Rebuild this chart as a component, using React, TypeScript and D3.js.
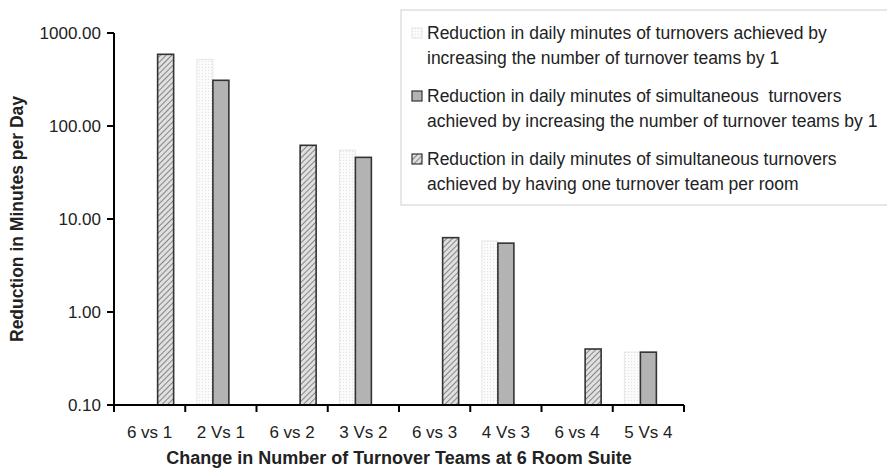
import * as d3 from "d3";
import React from "react";

const categories = ["6 vs 1", "2 Vs 1", "6 vs 2", "3 Vs 2", "6 vs 3", "4 Vs 3", "6 vs 4", "5 Vs 4"];
const turnoversByOne = [null, 520, null, 55, null, 5.8, null, 0.37];
const simultaneousByOne = [null, 310, null, 46, null, 5.5, null, 0.37];
const oneTeamPerRoom = [590, null, 62, null, 6.3, null, 0.4, null];
const yTicks = [0.1, 1, 10, 100, 1000];

const series = [
  {
    key: "turnovers",
    values: turnoversByOne,
    lines: ["Reduction in daily minutes of turnovers achieved by", "increasing the number of turnover teams by 1"],
  },
  {
    key: "simultaneous",
    values: simultaneousByOne,
    lines: ["Reduction in daily minutes of simultaneous  turnovers", "achieved by increasing the number of turnover teams by 1"],
  },
  {
    key: "perRoom",
    values: oneTeamPerRoom,
    lines: ["Reduction in daily minutes of simultaneous turnovers", "achieved by having one turnover team per room"],
  },
];

const styles: Record<string, { fill: string; stroke: string; sw: number }> = {
  turnovers: { fill: "url(#dots)", stroke: "#e6e6e6", sw: 1 },
  simultaneous: { fill: "#b3b3b3", stroke: "#333", sw: 1.6 },
  perRoom: { fill: "url(#hatch)", stroke: "#333", sw: 1.6 },
};

export default function App() {
  const width = 887;
  const height = 470;
  const left = 114;
  const right = 684;
  const top = 33;
  const bottom = 405;

  const x = d3.scaleBand().domain(categories).range([left, right]).padding(0);
  const bw = x.bandwidth();
  const groupW = bw * 0.674;
  const xs = d3
    .scaleBand()
    .domain(series.map((s) => s.key))
    .range([(bw - groupW) / 2, (bw + groupW) / 2]);
  const y = d3.scaleLog().domain([0.1, 1000]).range([bottom, top]);

  const font = "Liberation Sans, Arial, sans-serif";
  const legendX = 401;
  const legendRows = [33, 96, 159];

  return (
    <svg width={width} height={height} style={{ position: "absolute", left: 0, top: 0, background: "#fff" }} fontFamily={font}>
      <defs>
        <pattern id="hatch" width="4" height="4" patternUnits="userSpaceOnUse" patternTransform="rotate(45)">
          <rect width="4" height="4" fill="#e0e0e0" />
          <line x1="0" y1="0" x2="0" y2="4" stroke="#6e6e6e" strokeWidth="1.6" />
        </pattern>
        <pattern id="dots" width="3" height="3" patternUnits="userSpaceOnUse">
          <rect width="3" height="3" fill="#fbfbfb" />
          <rect x="1" y="1" width="1" height="1" fill="#e2e2e2" />
        </pattern>
      </defs>

      {/* bars */}
      {series.map((s) =>
        s.values.map((v, i) =>
          v == null ? null : (
            <rect
              key={s.key + i}
              x={(x(categories[i]) as number) + (xs(s.key) as number)}
              y={y(v)}
              width={xs.bandwidth()}
              height={bottom - y(v)}
              fill={styles[s.key].fill}
              stroke={styles[s.key].stroke}
              strokeWidth={styles[s.key].sw}
            />
          )
        )
      )}

      {/* y axis */}
      <line x1={left} x2={left} y1={top} y2={bottom} stroke="#000" strokeWidth={2} />
      {yTicks.map((t) => (
        <g key={t}>
          <line x1={left - 7} x2={left} y1={y(t)} y2={y(t)} stroke="#000" strokeWidth={2} />
          <text x={left - 13} y={y(t)} dy="0.35em" textAnchor="end" fontSize={17} fill="#222">
            {t.toFixed(2)}
          </text>
        </g>
      ))}

      {/* x axis */}
      <line x1={left} x2={right} y1={bottom} y2={bottom} stroke="#000" strokeWidth={2} />
      {[...categories.map((c) => x(c) as number), right].map((px, i) => (
        <line key={i} x1={px} x2={px} y1={bottom} y2={bottom + 7} stroke="#000" strokeWidth={2} />
      ))}
      {categories.map((c) => (
        <text key={c} x={(x(c) as number) + bw / 2} y={432} dy="0.35em" textAnchor="middle" fontSize={17} fill="#222">
          {c}
        </text>
      ))}

      <text x={(left + right) / 2} y={458} dy="0.35em" textAnchor="middle" fontSize={18} fontWeight="bold" fill="#222">
        Change in Number of Turnover Teams at 6 Room Suite
      </text>
      <text
        transform={`translate(17,${(top + bottom) / 2}) rotate(-90)`}
        dy="0.35em"
        textAnchor="middle"
        fontSize={17.5}
        fontWeight="bold"
        fill="#222"
      >
        Reduction in Minutes per Day
      </text>

      {/* legend */}
      <rect x={legendX} y={10} width={500} height={195} fill="#fff" stroke="#cfcfcf" strokeWidth={1} />
      {series.map((s, i) => (
        <g key={s.key}>
          <rect
            x={412}
            y={legendRows[i] - 5}
            width={10}
            height={10}
            fill={styles[s.key].fill}
            stroke={styles[s.key].stroke}
            strokeWidth={s.key === "turnovers" ? 1 : 1.2}
          />
          {s.lines.map((ln, j) => (
            <text key={j} x={427} y={legendRows[i] + j * 25} dy="0.35em" fontSize={17.5} fill="#222" style={{ whiteSpace: "pre" }}>
              {ln}
            </text>
          ))}
        </g>
      ))}
    </svg>
  );
}
